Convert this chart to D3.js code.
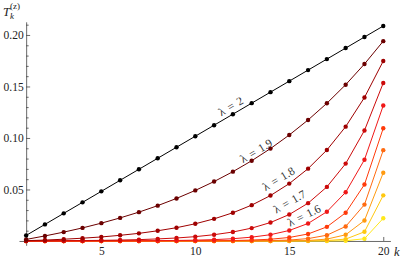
<!DOCTYPE html>
<html>
<head>
<meta charset="utf-8">
<script src="https://cdn.jsdelivr.net/npm/d3@7"></script>
<style>
  body { margin: 0; background: #fff; }
  svg text { font-family: "Liberation Serif", "DejaVu Serif", serif; }
</style>
</head>
<body>
<div id="chart"></div>
<script>
// k values (x axis)
const ks = [1,2,3,4,5,6,7,8,9,10,11,12,13,14,15,16,17,18,19,20];
const lambdas = ["2","1.9","1.8","1.7","1.6","1.5","1.4","1.3","1.2","1.1"];

// T_k^(z), one array per lambda
const t_20 = [0.0054,0.0161,0.0268,0.0375,0.0482,0.0589,0.0696,0.0803,0.0910,0.1017,0.1124,0.1231,0.1338,0.1445,0.1552,0.1659,0.1766,0.1873,0.1980,0.2087];
const t_19 = [0.0015,0.0049,0.0086,0.0127,0.0173,0.0224,0.0280,0.0343,0.0413,0.0491,0.0577,0.0673,0.0779,0.0897,0.1029,0.1175,0.1337,0.1517,0.1718,0.1940];
const t_18 = [0.0003,0.0009,0.0017,0.0027,0.0039,0.0055,0.0074,0.0099,0.0129,0.0167,0.0215,0.0274,0.0348,0.0441,0.0557,0.0702,0.0883,0.1110,0.1393,0.1747];
const t_17 = [0.0000,0.0001,0.0002,0.0004,0.0006,0.0009,0.0013,0.0020,0.0029,0.0042,0.0061,0.0087,0.0125,0.0179,0.0257,0.0367,0.0525,0.0751,0.1073,0.1534];
const t_16 = [0,0,0,0,0.0001,0.0001,0.0002,0.0003,0.0005,0.0008,0.0013,0.0022,0.0037,0.0061,0.0102,0.0170,0.0284,0.0473,0.0789,0.1315];
const t_15 = [0,0,0,0,0,0,0,0,0.0001,0.0001,0.0002,0.0004,0.0009,0.0017,0.0034,0.0068,0.0137,0.0274,0.0548,0.1095];
const t_14 = [0,0,0,0,0,0,0,0,0,0,0,0.0001,0.0001,0.0004,0.0009,0.0023,0.0056,0.0141,0.0353,0.0882];
const t_13 = [0,0,0,0,0,0,0,0,0,0,0,0,0,0,0.0002,0.0005,0.0018,0.0060,0.0199,0.0662];
const t_12 = [0,0,0,0,0,0,0,0,0,0,0,0,0,0,0,0.0001,0.0004,0.0018,0.0089,0.0443];
const t_11 = [0,0,0,0,0,0,0,0,0,0,0,0,0,0,0,0,0,0.0002,0.0022,0.0220];
const allT = [t_20,t_19,t_18,t_17,t_16,t_15,t_14,t_13,t_12,t_11];

const yMajor = [0.05,0.10,0.15,0.20];
const yMinor = [0.01,0.02,0.03,0.04,0.06,0.07,0.08,0.09,0.11,0.12,0.13,0.14,0.16,0.17,0.18,0.19,0.21];
const xMajor = [5,10,15,20];

const colors = ["#000000","#6b0000","#9e0000","#cc0a0a","#f01818","#ff3a0a","#ff6a10","#ff9a10","#ffc810","#ffe81a"];

const w = 406, h = 263;
const svg = d3.select("#chart").append("svg").attr("width", w).attr("height", h);

const x = d3.scaleLinear().domain([0.62, 20.38]).range([19, 390.4]);
const y = d3.scaleLinear().domain([-0.0042, 0.2128]).range([245.3, 21.8]);

//Axes
const axisColor = "#444";
const xAx = svg.append("g").attr("transform", "translate(0," + y(0) + ")")
   .call(d3.axisBottom(x).tickValues(xMajor).tickSize(-4).tickSizeOuter(0).tickPadding(5.5).tickFormat(d3.format("d")));
xAx.append("g").call(d3.axisBottom(x).tickValues(ks.filter(k => k % 5 != 0)).tickSize(-2.5).tickSizeOuter(0).tickFormat(""))
   .select(".domain").remove();
const yAx = svg.append("g").attr("transform", "translate(" + x(1) + ",0)")
   .call(d3.axisLeft(y).tickValues(yMajor).tickSize(-4).tickSizeOuter(0).tickPadding(2.5).tickFormat(d3.format(".2f")));
yAx.append("g").call(d3.axisLeft(y).tickValues(yMinor).tickSize(-2.5).tickSizeOuter(0).tickFormat(""))
   .select(".domain").remove();
svg.selectAll(".domain, .tick line").attr("stroke", axisColor).attr("stroke-width", 0.8);
svg.selectAll("g").attr("font-family", "Liberation Serif");
svg.selectAll(".tick text").style("font-size", "11.5px").attr("fill", "#222");

//Series, drawn from lambda = 1.1 up to lambda = 2 so the black one is on top
const line = d3.line().x((d, i) => x(ks[i])).y(d => y(d));
for (let si = allT.length - 1; si >= 0; si--) {
  const vals = allT[si];
  const g = svg.append("g");
  g.append("path").attr("d", line(vals)).attr("fill", "none")
   .attr("stroke", colors[si]).attr("stroke-width", 1);
  g.selectAll("circle").data(vals).enter().append("circle")
   .attr("cx", (d, i) => x(ks[i])).attr("cy", d => y(d)).attr("r", 2.2)
   .attr("fill", colors[si]);
}

//Curve labels
const curveLabels = [
  {s: 0, k: 12.1, off: 8},
  {s: 1, k: 13.4, off: 6},
  {s: 2, k: 14.7, off: 10},
  {s: 3, k: 15.3, off: 11},
  {s: 4, k: 16.0, off: 9}
];
function valAt(vals, k) {
  const i = Math.floor(k) - 1, f = k - Math.floor(k);
  return vals[i] + f * (vals[i + 1] - vals[i]);
}
curveLabels.forEach(function(l) {
  const vals = allT[l.s];
  const px = x(l.k), py = y(valAt(vals, l.k));
  let ang = Math.atan2(y(valAt(vals, l.k + 0.5)) - y(valAt(vals, l.k - 0.5)), x(l.k + 0.5) - x(l.k - 0.5)) * 180 / Math.PI;
  ang = Math.max(ang, -31);
  const rad = ang * Math.PI / 180;
  const cx = px + Math.sin(rad) * l.off, cy = py - Math.cos(rad) * l.off;
  svg.append("text").text("λ = " + lambdas[l.s])
     .attr("transform", "translate(" + cx + "," + cy + ") rotate(" + ang + ")")
     .attr("text-anchor", "middle").attr("dy", "0.35em")
     .style("font-size", "11.5px").style("word-spacing", "1.5px").attr("fill", "#333");
});

//Axis titles
const tl = svg.append("text").attr("x", 3).attr("y", 16).style("font-size", "12.5px").attr("fill", "#222");
tl.append("tspan").text("T").style("font-style", "italic");
tl.append("tspan").text("k").style("font-style", "italic").style("font-size", "9px").attr("dy", 3);
tl.append("tspan").text("(z)").style("font-size", "9px").attr("dx", -4).attr("dy", -10);
svg.append("text").attr("x", 394).attr("y", 256).text("k")
   .style("font-style", "italic").style("font-size", "12.5px").attr("fill", "#222");
</script>
</body>
</html>
